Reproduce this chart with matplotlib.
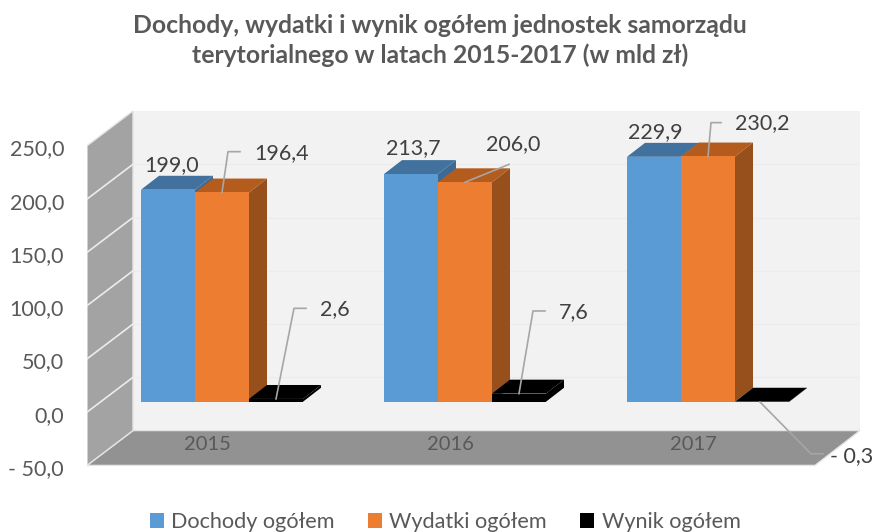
import numpy as np
import matplotlib
matplotlib.use("Agg")
import matplotlib.pyplot as plt

title_lines = ["Dochody, wydatki i wynik ogółem jednostek samorządu",
               "terytorialnego w latach 2015-2017 (w mld zł)"]
years = ["2015", "2016", "2017"]
series_names = ["Dochody ogółem", "Wydatki ogółem", "Wynik ogółem"]
dochody = [199.0, 213.7, 229.9]
wydatki = [196.4, 206.0, 230.2]
wynik = [2.6, 7.6, -0.3]
y_ticks = [-50, 0, 50, 100, 150, 200, 250]
y_labels = ["- 50,0", "0,0", "50,0", "100,0", "150,0", "200,0", "250,0"]

W, H = 877, 532
# skala: piksele na jednostke
sx = 243.0   # px na kategorie
sy = 1.07    # px na mld zl
x0_px, y0_px = 222.0, 403.0   # srodek 2015 / zero na plaszczyznie slupkow
bar_w = 54 / sx
dep_x, dep_y = 18 / sx, 14 / sy   # glebokosc slupka

plt.rcParams['font.family'] = ['Lato', 'DejaVu Sans']
fig = plt.figure(figsize=(W / 100, H / 100), dpi=100)
left, right, top, bottom = 87, 860, 110, 467
ax = fig.add_axes([left / W, 1 - bottom / H, (right - left) / W, (bottom - top) / H])
ax.set_xlim((left - x0_px) / sx, (right - x0_px) / sx)
ax.set_ylim((y0_px - bottom) / sy, (y0_px - top) / sy)
ax.set_axisbelow(False)
for s in ax.spines.values():
    s.set_visible(False)

# sciany w ukladzie danych
wall_off = -9.8                # przod sciany wzgledem plaszczyzny slupkow
wx0 = (87 - x0_px) / sx
wx1 = (133 - x0_px) / sx
wx2 = (860 - x0_px) / sx
wx3 = (815 - x0_px) / sx
wd = 35 / sy                   # glebokosc sciany w pionie
v_min, v_max = y_ticks[0], y_ticks[-1]

ax.fill([wx1, wx2, wx2, wx1],
        [v_min + wall_off + wd, v_min + wall_off + wd, v_max + wall_off + wd, v_max + wall_off + wd],
        color="#f2f2f2", lw=0, zorder=1)
ax.fill([wx0, wx1, wx2, wx3],
        [v_min + wall_off, v_min + wall_off + wd, v_min + wall_off + wd, v_min + wall_off],
        facecolor="#929292", edgecolor="#e4e4e4", lw=1, zorder=2)
ax.fill([wx0, wx1, wx1, wx0],
        [v_min + wall_off, v_min + wall_off + wd, v_max + wall_off + wd, v_max + wall_off],
        facecolor="#a3a3a3", edgecolor="#e4e4e4", lw=1, zorder=2)
for t in y_ticks[1:-1]:
    ax.plot([wx1, wx2], [t + wall_off + wd] * 2, color="#ececec", lw=0.8, zorder=1.5)
    ax.plot([wx0, wx1], [t + wall_off, t + wall_off + wd], color="#ececec", lw=1.2, zorder=3)

pos = np.arange(len(years))
values = [dochody, wydatki, wynik]
front = ["#5b9bd5", "#ed7d31", "#000000"]
top_c = ["#41719c", "#b35c1e", "#000000"]
side_c = ["#3d6a94", "#97501c", "#000000"]
handles = []
for i, vals in enumerate(values):
    xs = pos + (i - 1) * bar_w
    bars = ax.bar(xs, vals, width=bar_w, color=front[i], lw=0, zorder=5 + i)
    handles.append(bars[0])
    for x, v in zip(xs, vals):
        l, r = x - bar_w / 2, x + bar_w / 2
        h = max(v, 0)
        ax.fill([r, r + dep_x, r + dep_x, r], [min(v, 0), min(v, 0) + dep_y, h + dep_y, h],
                color=side_c[i], lw=0, zorder=4.5 + i)
        ax.fill([l, r, r + dep_x, l + dep_x], [h, h, h + dep_y, h + dep_y],
                color=top_c[i], lw=0, zorder=4.6 + i)

ax.set_yticks([t + wall_off - 1.5 for t in y_ticks], y_labels)
ax.set_xticks(pos - 15 / sx, years)
ax.tick_params(axis="y", length=0, pad=16.5, labelsize=15.5, labelcolor="#595959")
ax.tick_params(axis="x", length=0, pad=-22, labelsize=14.5, labelcolor="#595959")

# etykiety: (seria, rok) -> przesuniecie tekstu w px, linia odniesienia w px
labels = [
    (0, 0, dochody[0], "199,0", (4, 25), None),
    (0, 1, dochody[1], "213,7", (2, 26), None),
    (0, 2, dochody[2], "229,9", (1, 25), None),
    (1, 0, wydatki[0], "196,4", (60, 40), [(0, 0), (6, 41), (18, 41)]),
    (1, 1, wydatki[1], "206,0", (48, 38), [(0, 0), (44, 18)]),
    (1, 2, wydatki[2], "230,2", (54, 34), [(0, 0), (3, 34), (13, 34)]),
    (2, 0, wynik[0], "2,6", (59, 90), [(0, 0), (18, 91), (30, 91)]),
    (2, 1, wynik[1], "7,6", (55, 82), [(0, 0), (14, 83), (26, 83)]),
    (2, 2, wynik[2], "- 0,3", (90, -54), [(-2, 0), (49, -52), (61, -52)]),
]
for s, k, v, txt, off, lead in labels:
    xa = pos[k] + (s - 1) * bar_w
    ya = max(v, 0) if s < 2 else v
    if lead:
        ax.plot([xa + p[0] / sx for p in lead], [ya + p[1] / sy for p in lead],
                color="#a6a6a6", lw=1.2, zorder=12, clip_on=False)
    ax.text(xa + off[0] / sx, ya + off[1] / sy, txt, ha="center", va="center",
            fontsize=15.5, color="#404040", zorder=13, clip_on=False)

for line, base_px in zip(title_lines, [33, 63]):
    fig.text(440 / W, 1 - base_px / H, line, ha="center", va="baseline",
             fontsize=17.8, fontweight="bold", color="#595959")

fig.legend(handles, series_names, ncol=3, loc="center", bbox_to_anchor=(445 / W, 1 - 522 / H),
           frameon=False, fontsize=15.6, labelcolor="#595959", handlelength=0.65, handleheight=0.65,
           handletextpad=0.33, columnspacing=1.55, borderpad=0, borderaxespad=0)

fig.savefig("out.png", dpi=100)
